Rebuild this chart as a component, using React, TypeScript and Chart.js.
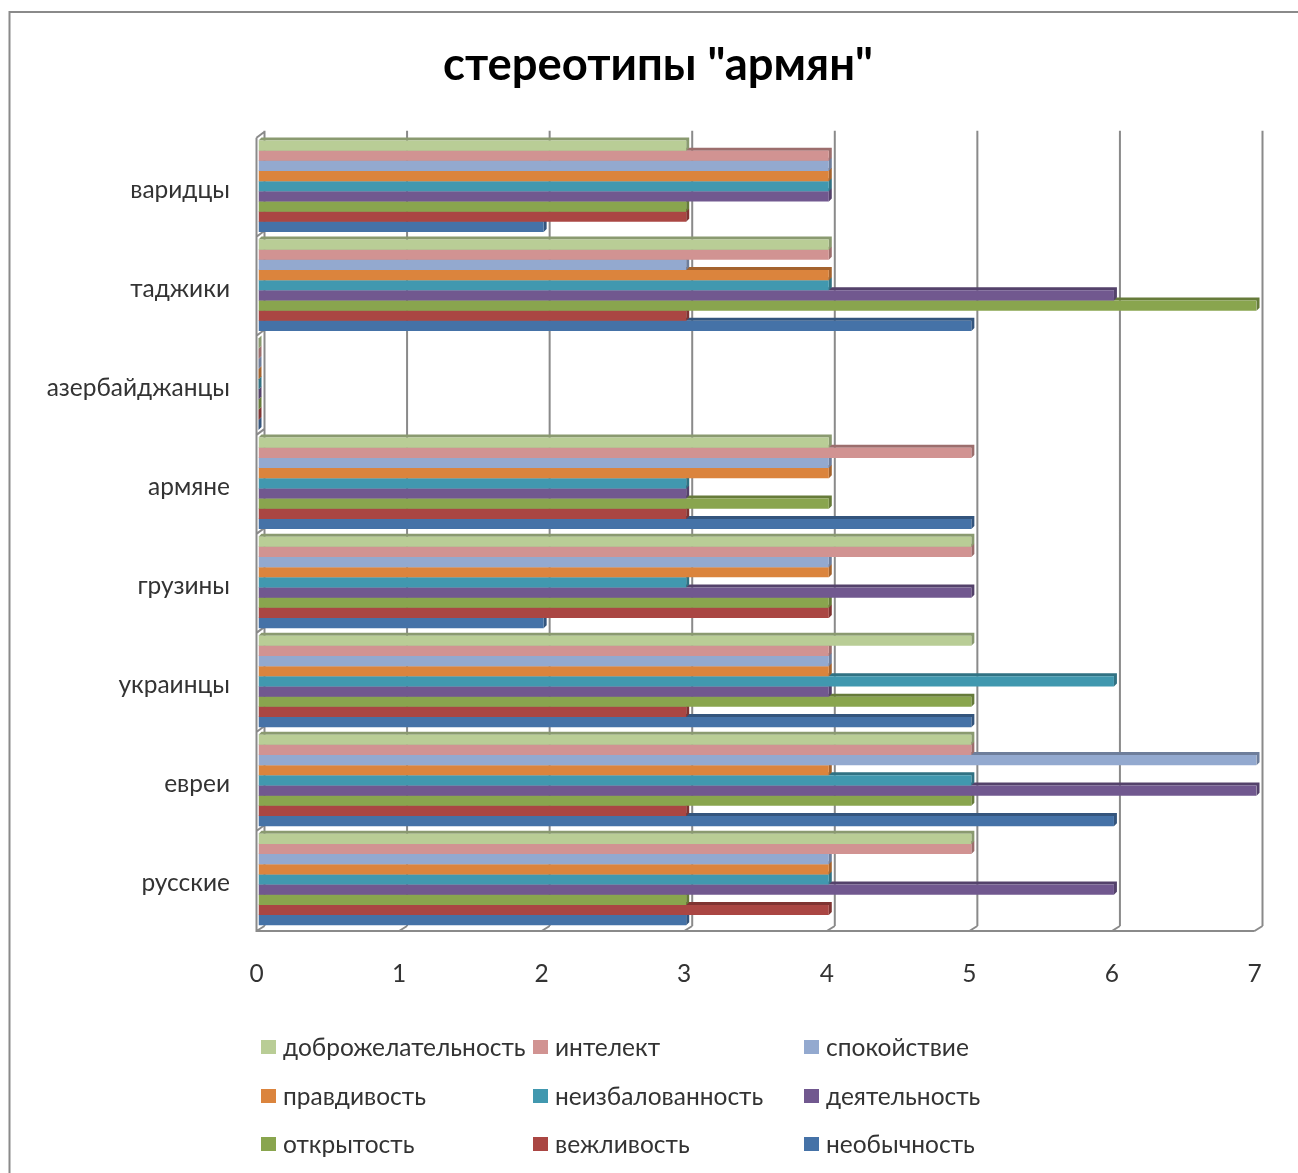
import React, { useEffect, useRef } from "react";
import { Chart, registerables } from "chart.js";

Chart.register(...registerables);

const categories = ["варидцы", "таджики", "азербайджанцы", "армяне", "грузины", "украинцы", "евреи", "русские"];
const titleText = 'стереотипы "армян"';
const xTicks = [0, 1, 2, 3, 4, 5, 6, 7];

const dobro = [3, 4, 0, 4, 5, 5, 5, 5];
const intelekt = [4, 4, 0, 5, 5, 4, 5, 5];
const spokoystvie = [4, 3, 0, 4, 4, 4, 7, 4];
const pravdivost = [4, 4, 0, 4, 4, 4, 4, 4];
const neizbal = [4, 4, 0, 3, 3, 6, 5, 4];
const deyatelnost = [4, 6, 0, 3, 5, 4, 7, 6];
const otkrytost = [3, 7, 0, 4, 4, 5, 5, 3];
const vezhlivost = [3, 3, 0, 3, 4, 3, 3, 4];
const neobychnost = [2, 5, 0, 5, 2, 5, 6, 3];

const seriesNames = ["доброжелательность", "интелект", "спокойствие", "правдивость", "неизбалованность", "деятельность", "открытость", "вежливость", "необычность"];
const seriesValues = [dobro, intelekt, spokoystvie, pravdivost, neizbal, deyatelnost, otkrytost, vezhlivost, neobychnost];
const seriesColors = ["#B9CD96", "#D19392", "#93A9CF", "#DB843D", "#4198AF", "#71588F", "#89A54E", "#AA4643", "#4572A7"];
const seriesDark = ["#8A9A70", "#9C6E6D", "#6E7E9B", "#A4632E", "#317283", "#54426B", "#667B3A", "#7F3432", "#34557D"];

const FONT = "Lato, 'Open Sans', sans-serif";
const TEXT = "#333333";
const GRID = "#8A8A8A";
const LEGEND_COLS = [261, 533, 804];
const LEGEND_ROWS = [1047, 1096, 1144];

const decor = {
  id: "decor",
  beforeDraw(chart: any) {
    const { ctx, width, height } = chart;
    ctx.save();
    ctx.fillStyle = "#ffffff";
    ctx.fillRect(0, 0, width, height);
    ctx.strokeStyle = GRID;
    ctx.lineWidth = 2;
    ctx.beginPath();
    ctx.moveTo(9.5, height);
    ctx.lineTo(9.5, 12);
    ctx.lineTo(width, 12);
    ctx.stroke();
    ctx.restore();
  },
  beforeDatasetsDraw(chart: any) {
    const { ctx, chartArea, scales } = chart;
    const { top, bottom } = chartArea;
    const backTop = top - 6;
    const backBottom = bottom - 3;
    const frontBottom = bottom + 2;
    const frontTop = top + 1;
    ctx.save();
    ctx.strokeStyle = GRID;
    ctx.lineWidth = 2;
    ctx.beginPath();
    xTicks.forEach((v) => {
      const px = scales.x.getPixelForValue(v);
      ctx.moveTo(px + 6, backTop);
      ctx.lineTo(px + 6, backBottom);
      ctx.moveTo(px - 2, frontBottom);
      ctx.lineTo(px + 6, backBottom);
    });
    const x0 = scales.x.getPixelForValue(0);
    ctx.moveTo(x0 - 2, frontTop);
    ctx.lineTo(x0 - 2, frontBottom);
    ctx.lineTo(scales.x.getPixelForValue(7) - 2, frontBottom);
    const pitch = (bottom - top) / categories.length;
    for (let i = 0; i < categories.length; i++) {
      const y = top + i * pitch + 1;
      ctx.moveTo(x0 - 2, y);
      ctx.lineTo(x0 + 6, y - 6);
    }
    ctx.stroke();
    ctx.restore();
  },
  beforeDatasetDraw(chart: any, args: any) {
    const { ctx } = chart;
    const d = 3;
    ctx.save();
    ctx.fillStyle = seriesDark[args.index];
    args.meta.data.forEach((el: any) => {
      const p = el.getProps(["x", "y", "base", "height"], true);
      const t = p.y - p.height / 2;
      const b = p.y + p.height / 2;
      ctx.beginPath();
      ctx.moveTo(p.base, t);
      ctx.lineTo(p.base + d, t - d);
      ctx.lineTo(p.x + d, t - d);
      ctx.lineTo(p.x + d, b - d);
      ctx.lineTo(p.x, b);
      ctx.lineTo(p.x, t);
      ctx.closePath();
      ctx.fill();
    });
    ctx.restore();
  },
  afterDraw(chart: any) {
    const { ctx } = chart;
    ctx.save();
    ctx.font = `24.5px ${FONT}`;
    ctx.textBaseline = "middle";
    ctx.textAlign = "left";
    chart.data.datasets.forEach((ds: any, i: number) => {
      const col = LEGEND_COLS[i % 3];
      const row = LEGEND_ROWS[Math.floor(i / 3)];
      ctx.fillStyle = ds.backgroundColor;
      ctx.fillRect(col, row - 7, 15, 14);
      ctx.fillStyle = TEXT;
      ctx.fillText(ds.label, col + 22, row + 1);
    });
    ctx.restore();
  },
};

export default function App() {
  const ref = useRef<HTMLCanvasElement>(null);
  useEffect(() => {
    const chart = new Chart(ref.current!, {
      type: "bar",
      data: {
        labels: categories,
        datasets: seriesNames.map((label, i) => ({
          label,
          data: seriesValues[i],
          backgroundColor: seriesColors[i],
          borderWidth: 0,
          categoryPercentage: 0.924,
          barPercentage: 1,
        })),
      },
      options: {
        indexAxis: "y",
        responsive: false,
        animation: false,
        events: [],
        layout: { padding: { left: 40, right: 22, top: 0, bottom: 0 } },
        plugins: {
          legend: { display: false },
          tooltip: { enabled: false },
          title: {
            display: true,
            text: titleText,
            color: "#000000",
            font: { family: FONT, size: 45.4, weight: "bold", lineHeight: 1.2 },
            padding: { top: 37.75, bottom: 44.5 },
          },
        },
        scales: {
          x: {
            type: "linear",
            min: 0,
            max: 7,
            grid: { display: false },
            border: { display: false },
            ticks: {
              stepSize: 1,
              color: TEXT,
              font: { family: FONT, size: 24.5 },
              labelOffset: -2,
              padding: 22,
              maxRotation: 0,
            },
            afterFit(s: any) {
              s.height = 244;
              s.paddingLeft = 0;
              s.paddingRight = 0;
            },
          },
          y: {
            type: "category",
            grid: { display: false },
            border: { display: false },
            ticks: {
              color: TEXT,
              font: { family: FONT, size: 24.5 },
              padding: 20.5,
              labelOffset: 4,
              autoSkip: false,
            },
            afterFit(s: any) {
              s.width = 218.5;
              s.paddingTop = 0;
              s.paddingBottom = 0;
            },
          },
          spacer: {
            type: "linear",
            position: "right",
            grid: { display: false },
            border: { display: false },
            ticks: { display: false },
            afterFit(s: any) {
              s.width = 19.5;
            },
          },
        },
      } as any,
      plugins: [decor],
    });
    return () => chart.destroy();
  }, []);
  return (
    <div style={{ position: "fixed", left: 0, top: 0, width: 1298, height: 1173 }}>
      <canvas ref={ref} width={1298} height={1173} style={{ display: "block" }} />
    </div>
  );
}
